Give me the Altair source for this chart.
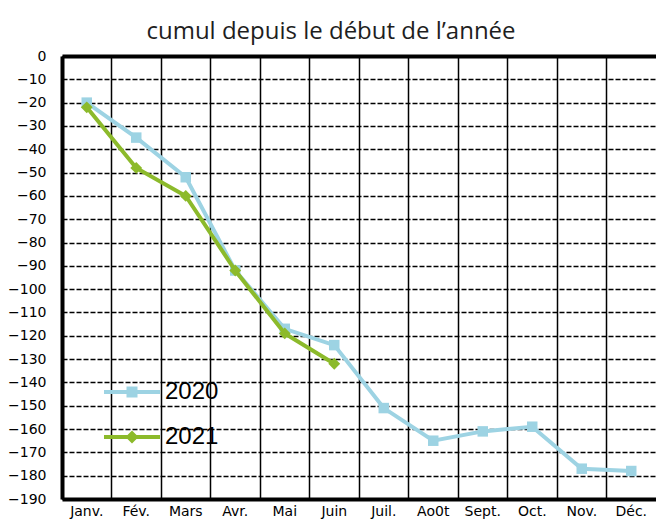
import altair as alt
import pandas as pd

mois = ["Janv.", "Fév.", "Mars", "Avr.", "Mai", "Juin", "Juil.", "Ao0t", "Sept.", "Oct.", "Nov.", "Déc."]
annees = ["2020", "2021"]
valeurs_2020 = [-20, -35, -52, -92, -117, -124, -151, -165, -161, -159, -177, -178]
valeurs_2021 = [-22, -48, -60, -92, -119, -132]
y_ticks = [0, -10, -20, -30, -40, -50, -60, -70, -80, -90, -100, -110, -120,
           -130, -140, -150, -160, -170, -180, -190]
couleurs = ["#9dd3e3", "#8cba2b"]
titre = "cumul depuis le début de l’année"

rows = []
for m, v in zip(mois, valeurs_2020):
    rows.append({"mois": m, "valeur": v, "annee": "2020"})
for m, v in zip(mois, valeurs_2021):
    rows.append({"mois": m, "valeur": v, "annee": "2021"})
df = pd.DataFrame(rows)

xscale = alt.Scale(type="band", domain=mois, paddingInner=0, paddingOuter=0)
color_scale = alt.Scale(domain=annees, range=couleurs)

y_enc = alt.Y(
    "valeur:Q",
    scale=alt.Scale(domain=[-190, 0], nice=False, zero=False),
    axis=alt.Axis(
        values=y_ticks, grid=True, gridDash=[5, 2], gridColor="black", gridWidth=1.3,
        domainColor="black", domainWidth=4, ticks=False, labelFont="DejaVu Sans",
        labelFontSize=14, labelColor="black", labelPadding=16, title=None,
        labelOverlap=False, labelFlush=False,
    ),
)

axis_grid = alt.Axis(
    orient="top", bandPosition=0, grid=True, gridColor="black", gridWidth=1.5,
    labels=False, ticks=False, domain=True, domainColor="black", domainWidth=4, title=None,
)
axis_labels = alt.Axis(
    orient="bottom", grid=False, ticks=False, domain=True, domainColor="black",
    domainWidth=4, labelFont="DejaVu Sans", labelFontSize=14, labelColor="black",
    labelPadding=5, labelAngle=0, title=None, labelOverlap=False,
)

sym_2020 = "M-5.6,-0.4H5.6V0.4H-5.6Z M-1.1,-1.1H1.1V1.1H-1.1Z"
sym_2021 = "M-5.6,-0.4H5.6V0.4H-5.6Z M0,-1.3L1.3,0L0,1.3L-1.3,0Z"

leg = alt.Legend(
    orient="none", legendX=58, legendY=324, title=None, labelFont="Liberation Sans",
    labelFontSize=24, labelColor="black", symbolSize=100, rowPadding=21,
    labelOffset=21, symbolStrokeWidth=0, padding=0,
)
color_enc = alt.Color("annee:N", scale=color_scale, legend=leg)


def xenc(axis):
    return alt.X("mois:N", sort=mois, scale=xscale, bandPosition=0.5, axis=axis)


base = alt.Chart(df)

line20 = base.transform_filter(alt.datum.annee == "2020").mark_line(strokeWidth=4).encode(
    x=xenc(axis_grid), y=y_enc, color=color_enc,
)
pts20 = base.transform_filter(alt.datum.annee == "2020").mark_point(
    shape="square", filled=True, size=110, opacity=1
).encode(x=xenc(axis_labels), y=y_enc, color=color_enc)
line21 = base.transform_filter(alt.datum.annee == "2021").mark_line(strokeWidth=4).encode(
    x=xenc(None), y=y_enc, color=color_enc,
)
pts21 = base.transform_filter(alt.datum.annee == "2021").mark_point(
    shape="diamond", filled=True, size=140, opacity=1
).encode(x=xenc(None), y=y_enc, color=color_enc)

legend_layer = base.transform_filter("false").mark_point(filled=True, opacity=1).encode(
    x=xenc(None), y=y_enc, color=color_enc,
    shape=alt.Shape("annee:N", scale=alt.Scale(domain=annees, range=[sym_2020, sym_2021]), legend=leg),
)

chart = alt.layer(line20, pts20, line21, pts21, legend_layer).resolve_axis(
    x="independent"
).properties(
    width=594, height=443,
    title=alt.Title(titre, font="Open Sans", fontSize=24, fontWeight="normal",
                    color="#1e1e1e", anchor="middle", dx=-28, offset=5),
    padding={"left": 54, "top": 48, "right": 0, "bottom": 20},
    autosize=alt.AutoSizeParams(type="none"),
).configure_view(stroke=None).configure(background="white")

chart.save("out.html", embed_options={"renderer": "svg", "actions": False})
